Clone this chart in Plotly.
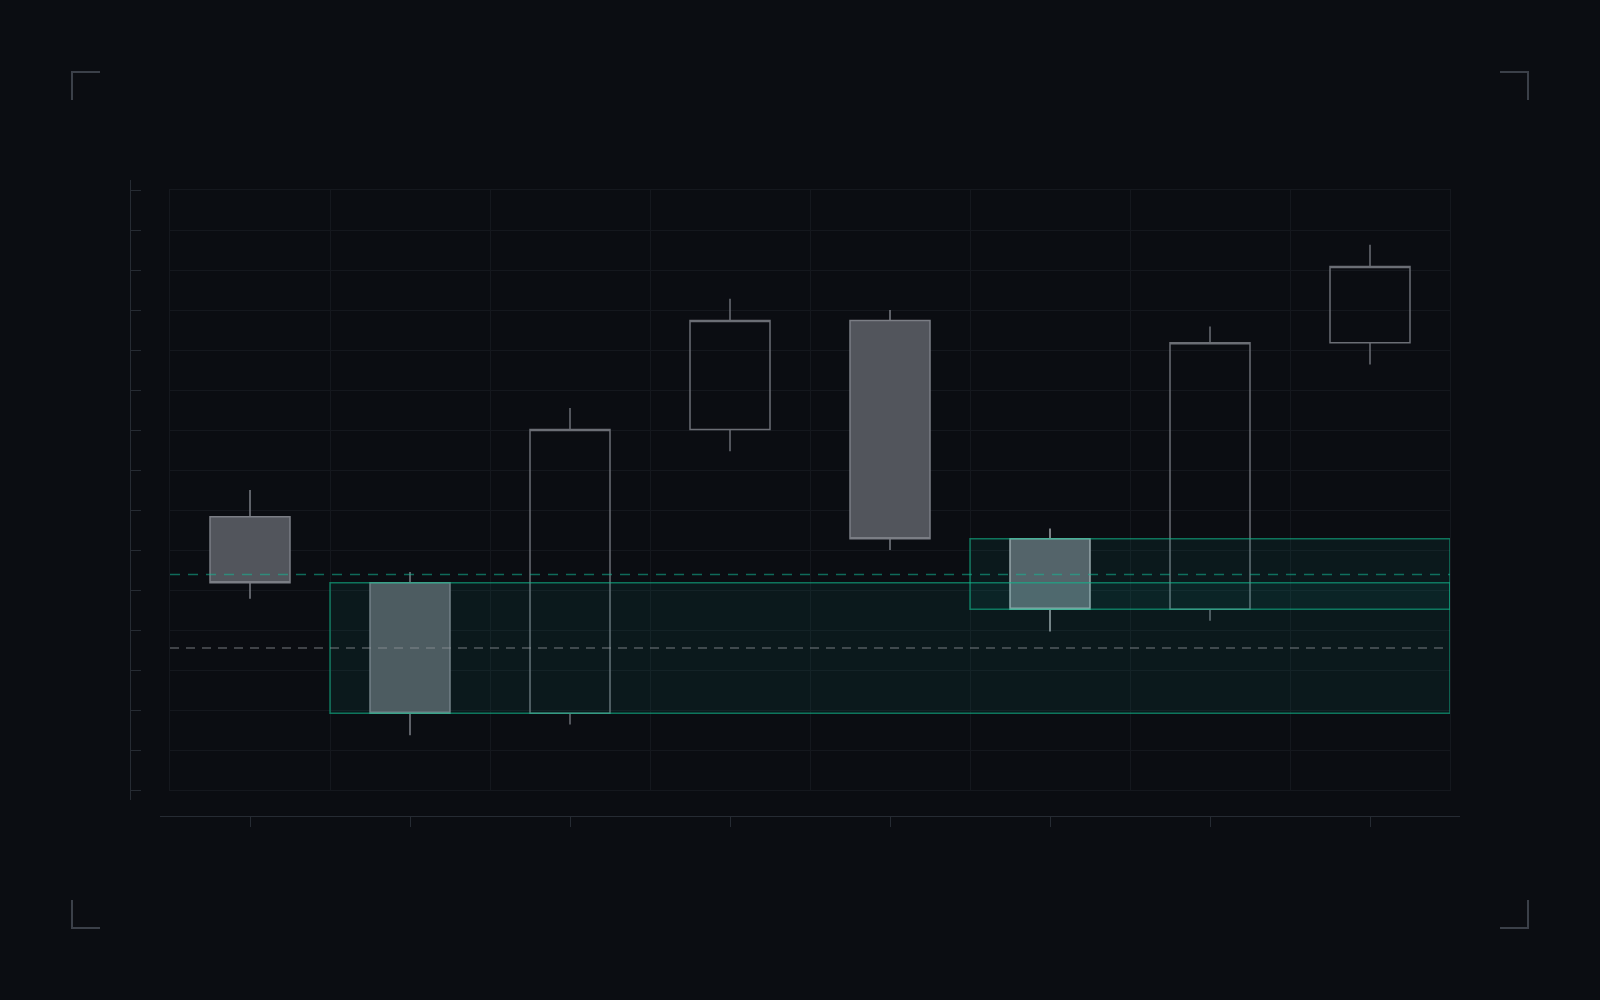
import plotly.graph_objects as go

# candle data (arbitrary price units, 1 unit = one grid row)
sessions = [0, 1, 2, 3, 4, 5, 6, 7]
opens = [6.83, 5.18, 1.92, 9.01, 11.74, 6.28, 4.52, 11.18]
highs = [7.50, 5.45, 9.55, 12.28, 12.00, 6.54, 11.59, 13.63]
lows = [4.78, 1.37, 1.64, 8.47, 6.00, 3.96, 4.23, 10.64]
closes = [5.18, 1.92, 9.01, 11.74, 6.28, 4.52, 11.18, 13.09]
highlight = 5

# zones: (x0, x1, y0, y1)
zone_x0 = [0.5, 4.5]
zone_x1 = [7.5, 7.5]
zone_lo = [1.92, 4.52]
zone_hi = [5.18, 6.28]

# reference levels
level_teal = 5.39
level_gray = 3.55

y_ticks = list(range(16))

BG = "#0b0d12"
GRID = "#15181e"
AXIS = "#262b33"
BRACKET = "#3b4049"
TEAL_LINE = "rgba(16,185,140,0.6)"
TEAL_FILL = "rgba(20,184,166,0.07)"

W, H = 1600, 1000
ML, MR, MT, MB = 120, 120, 170, 170
PW, PH = W - ML - MR, H - MT - MB


def px_x(px):
    return (px - ML) / PW


def px_y(py):
    return (H - MB - py) / PH


fig = go.Figure()

main_idx = [i for i in range(len(sessions)) if i != highlight]


def pick(arr, idx):
    return [arr[i] for i in idx]


fig.add_trace(go.Candlestick(
    x=pick(sessions, main_idx),
    open=pick(opens, main_idx), high=pick(highs, main_idx),
    low=pick(lows, main_idx), close=pick(closes, main_idx),
    increasing=dict(line=dict(color="#6b6e75", width=1.5), fillcolor="rgba(0,0,0,0)"),
    decreasing=dict(line=dict(color="#7b7e85", width=1.5), fillcolor="#52555c"),
    whiskerwidth=0, showlegend=False, hoverinfo="skip",
))
fig.add_trace(go.Candlestick(
    x=[sessions[highlight]],
    open=[opens[highlight]], high=[highs[highlight]],
    low=[lows[highlight]], close=[closes[highlight]],
    increasing=dict(line=dict(color="#a3a6ac", width=1.5), fillcolor="rgba(0,0,0,0)"),
    decreasing=dict(line=dict(color="#a3a6ac", width=1.5), fillcolor="#5a5e66"),
    whiskerwidth=0, showlegend=False, hoverinfo="skip",
))

# dummy trace for the detached outer axes
fig.add_trace(go.Scatter(x=[None], y=[None], xaxis="x2", yaxis="y2",
                         showlegend=False, hoverinfo="skip"))

for x0, x1, lo, hi in zip(zone_x0, zone_x1, zone_lo, zone_hi):
    fig.add_shape(type="rect", xref="x", yref="y", x0=x0, x1=x1, y0=lo, y1=hi,
                  line=dict(color=TEAL_LINE, width=1.5), fillcolor=TEAL_FILL,
                  layer="above")

fig.add_shape(type="line", xref="x domain", yref="y", x0=0, x1=1,
              y0=level_teal, y1=level_teal,
              line=dict(color="rgba(20,184,150,0.55)", width=1.5, dash="10px,8px"),
              layer="above")
fig.add_shape(type="line", xref="x domain", yref="y", x0=0, x1=1,
              y0=level_gray, y1=level_gray,
              line=dict(color="rgba(140,145,152,0.55)", width=1.5, dash="9px,7px"),
              layer="above")

# corner brackets
L, off = 28, 72
corners = [(off, off, 1, 1), (W - off, off, -1, 1),
           (off, H - off, 1, -1), (W - off, H - off, -1, -1)]
for cx, cy, sx, sy in corners:
    fig.add_shape(type="path", xref="paper", yref="paper",
                  path=f"M {px_x(cx + sx * L)},{px_y(cy)} L {px_x(cx)},{px_y(cy)} "
                       f"L {px_x(cx)},{px_y(cy + sy * L)}",
                  line=dict(color=BRACKET, width=2))

fig.update_layout(
    width=W, height=H,
    margin=dict(l=ML, r=MR, t=MT, b=MB),
    paper_bgcolor=BG, plot_bgcolor="rgba(0,0,0,0)",
    boxgap=0.5, boxgroupgap=0,
    showlegend=False,
    xaxis=dict(
        domain=[px_x(170), px_x(1450)], range=[-0.5, 7.5],
        tickvals=[i - 0.5 for i in range(9)], showticklabels=False, ticks="",
        showgrid=True, gridcolor=GRID, gridwidth=1, zeroline=False,
        showline=True, mirror=True, linecolor=GRID, linewidth=1,
        rangeslider=dict(visible=False), fixedrange=True,
    ),
    yaxis=dict(
        domain=[px_y(790), px_y(190)], range=[0, 15],
        tickvals=y_ticks, showticklabels=False, ticks="",
        showgrid=True, gridcolor=GRID, gridwidth=1, zeroline=False,
        showline=True, mirror=True, linecolor=GRID, linewidth=1, fixedrange=True,
    ),
    xaxis2=dict(
        domain=[px_x(160), px_x(1460)], range=[-0.5625, 7.5625],
        anchor="free", position=px_y(816),
        tickvals=sessions, showticklabels=False, ticks="outside", ticklen=10,
        tickcolor=AXIS, tickwidth=1, showgrid=False, zeroline=False,
        showline=True, linecolor=AXIS, linewidth=1, fixedrange=True,
    ),
    yaxis2=dict(
        domain=[px_y(800), px_y(180)], range=[-0.25, 15.25],
        anchor="free", position=px_x(130),
        tickvals=y_ticks, showticklabels=False, ticks="inside", ticklen=10,
        tickcolor=AXIS, tickwidth=1, showgrid=False, zeroline=False,
        showline=True, linecolor=AXIS, linewidth=1, fixedrange=True,
    ),
)

fig.write_html(
    "out.html",
    config={"displayModeBar": False},
    post_script="document.body.style.margin='0';document.body.style.background='#0b0d12';",
)
